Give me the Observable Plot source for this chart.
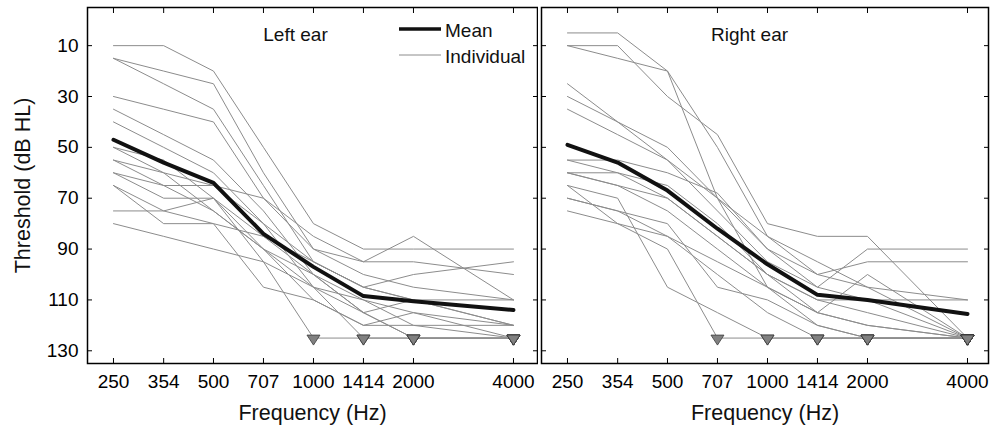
<!DOCTYPE html>
<html><head><meta charset="utf-8">
<script src="https://cdn.jsdelivr.net/npm/d3@7"></script>
<script src="https://cdn.jsdelivr.net/npm/@observablehq/plot@0.6"></script>
<style>
html,body{margin:0;padding:0;background:#fff;}
#chart{position:relative;width:990px;height:427px;font-family:"Liberation Sans",Arial,Helvetica,sans-serif;background:#fff;}
#left,#right{position:absolute;top:0;}
#left{left:0;} #right{left:538px;}
#legend{position:absolute;left:399px;top:18px;}
</style></head><body>
<div id="chart"><div id="left"></div><div id="right"></div><div id="legend"></div></div>
<script>
// Frequencies (Hz) and tick values
const freqs = [250, 354, 500, 707, 1000, 1414, 2000, 4000];
const thresholdTicks = [10, 30, 50, 70, 90, 110, 130];
const noResponse = 125; // plotted with a triangle marker
const panelTitles = ["Left ear", "Right ear"];
const legendLabels = ["Mean", "Individual"];
const xLabel = "Frequency (Hz)";
const yLabel = "Threshold (dB HL)";

// Mean thresholds (dB HL) at each frequency
const leftMean  = [47, 56, 64, 84, 97, 108.5, 110.5, 114];
const rightMean = [49, 56, 67, 82, 96, 108, 110, 115.5];

// Individual thresholds (dB HL), one row per listener
const leftIndividual = [
  [10, 10, 20, 50, 80, 90, 90, 90],
  [15, 20, 25, 60, 90, 95, 85, 110],
  [15, 25, 35, 65, 95, 105, 100, 95],
  [30, 35, 40, 70, 85, 95, 95, 100],
  [35, 45, 55, 75, 100, 115, 110, 120],
  [40, 50, 60, 80, 105, 125, 125, 125],
  [50, 60, 65, 70, 90, 100, 105, 110],
  [50, 55, 70, 85, 100, 110, 115, 120],
  [55, 65, 65, 80, 95, 105, 110, 120],
  [55, 60, 75, 90, 110, 120, 120, 125],
  [60, 70, 70, 95, 125, 125, 125, 125],
  [60, 65, 75, 90, 100, 115, 125, 125],
  [65, 75, 80, 105, 110, 120, 115, 125],
  [65, 80, 80, 85, 95, 105, 110, 110],
  [75, 75, 70, 90, 105, 110, 120, 120],
  [80, 85, 90, 95, 105, 115, 125, 125]
];
const rightIndividual = [
  [5, 5, 20, 70, 105, 115, 120, 125],
  [10, 15, 20, 50, 85, 95, 105, 125],
  [10, 10, 30, 45, 80, 85, 85, 125],
  [25, 40, 55, 75, 95, 105, 90, 90],
  [30, 40, 50, 70, 90, 100, 95, 95],
  [35, 45, 55, 70, 85, 100, 105, 110],
  [55, 55, 60, 68, 90, 105, 110, 125],
  [55, 60, 70, 85, 100, 110, 115, 125],
  [60, 60, 65, 80, 100, 115, 120, 125],
  [60, 65, 75, 90, 105, 120, 125, 125],
  [60, 65, 70, 85, 100, 110, 110, 110],
  [65, 70, 105, 115, 125, 125, 125, 125],
  [70, 75, 80, 105, 110, 120, 125, 125],
  [75, 80, 85, 95, 105, 115, 100, 125],
  [65, 80, 90, 125, 125, 125, 125, 125],
  [70, 75, 85, 100, 115, 125, 125, 125]
];

const FONT = '"Liberation Sans", Arial, Helvetica, sans-serif';
const triDown = {
  draw(ctx, size) {
    const s = Math.sqrt(size / Math.PI);
    ctx.moveTo(-s, -0.46 * s);
    ctx.lineTo(s, -0.46 * s);
    ctx.lineTo(0, 1.08 * s);
    ctx.closePath();
  }
};

function panel({indiv, mean, title, width, marginLeft, marginRight, xMax, showYLabels}) {
  const lines = indiv.flatMap((vals, i) => vals.map((v, j) => ({id: i, freq: freqs[j], thr: v})));
  const meanData = mean.map((v, j) => ({freq: freqs[j], thr: v}));
  const nr = lines.filter(d => d.thr === noResponse);
  return Plot.plot({
    width, height: 427,
    marginTop: 7, marginBottom: 64, marginLeft, marginRight,
    style: {fontFamily: FONT, fontSize: "19px", color: "#000", background: "#fff"},
    x: {type: "log", domain: [208.8, xMax]},
    y: {domain: [-5, 135], reverse: true},
    marks: [
      Plot.line(lines, {x: "freq", y: "thr", z: "id", stroke: "#8c8c8c", strokeWidth: 1}),
      Plot.line(meanData, {x: "freq", y: "thr", stroke: "#111", strokeWidth: 4, strokeLinejoin: "round"}),
      Plot.dot(nr, {x: "freq", y: "thr", symbol: triDown, r: 6.5, fill: "#808080", stroke: "#3a3a3a", strokeWidth: 0.8}),
      Plot.text([title], {text: d => d, frameAnchor: "top-left", dx: 208, dy: 20, textAnchor: "middle", lineAnchor: "top", fontSize: 19, fill: "#111"}),
      Plot.axisX({anchor: "bottom", ticks: freqs, tickFormat: d => String(d), tickSize: -5, tickPadding: 16, label: null, fontSize: 19}),
      Plot.text([xLabel], {text: d => d, frameAnchor: "bottom", lineAnchor: "top", dy: 41, fontSize: 21.5, fill: "#111"}),
      Plot.axisX({anchor: "top", ticks: freqs, tickFormat: () => "", tickSize: -5, label: null}),
      showYLabels
        ? Plot.axisY({anchor: "left", ticks: thresholdTicks, tickSize: -5, tickPadding: 14, label: null, fontSize: 19})
        : Plot.axisY({anchor: "left", ticks: thresholdTicks, tickFormat: () => "", tickSize: -5, label: null}),
      showYLabels
        ? Plot.text([yLabel], {text: d => d, frameAnchor: "left", rotate: -90, lineAnchor: "top", textAnchor: "middle", dx: -73, fontSize: 21.5, fill: "#111"})
        : null,
      Plot.axisY({anchor: "right", ticks: thresholdTicks, tickFormat: () => "", tickSize: -5, label: null}),
      Plot.frame({stroke: "#000", strokeWidth: 1.5})
    ]
  });
}

document.getElementById("left").append(panel({
  indiv: leftIndividual, mean: leftMean, title: panelTitles[0],
  width: 538, marginLeft: 87, marginRight: 1, xMax: 4725, showYLabels: true
}));
document.getElementById("right").append(panel({
  indiv: rightIndividual, mean: rightMean, title: panelTitles[1],
  width: 452, marginLeft: 3, marginRight: 2, xMax: 4627, showYLabels: false
}));

// Legend (inside the left panel)
const lg = d3.select("#legend").append("svg").attr("width", 150).attr("height", 56)
  .style("font-family", FONT).style("font-size", "19px");
const legendStyles = [{w: 3.5, c: "#111"}, {w: 1, c: "#8c8c8c"}];
legendLabels.forEach((t, i) => {
  const y = 11 + i * 26;
  lg.append("line").attr("x1", 0).attr("x2", 42).attr("y1", y).attr("y2", y)
    .attr("stroke", legendStyles[i].c).attr("stroke-width", legendStyles[i].w);
  lg.append("text").attr("x", 46).attr("y", y + 8).attr("fill", "#111").text(t);
});
</script>
</body></html>
